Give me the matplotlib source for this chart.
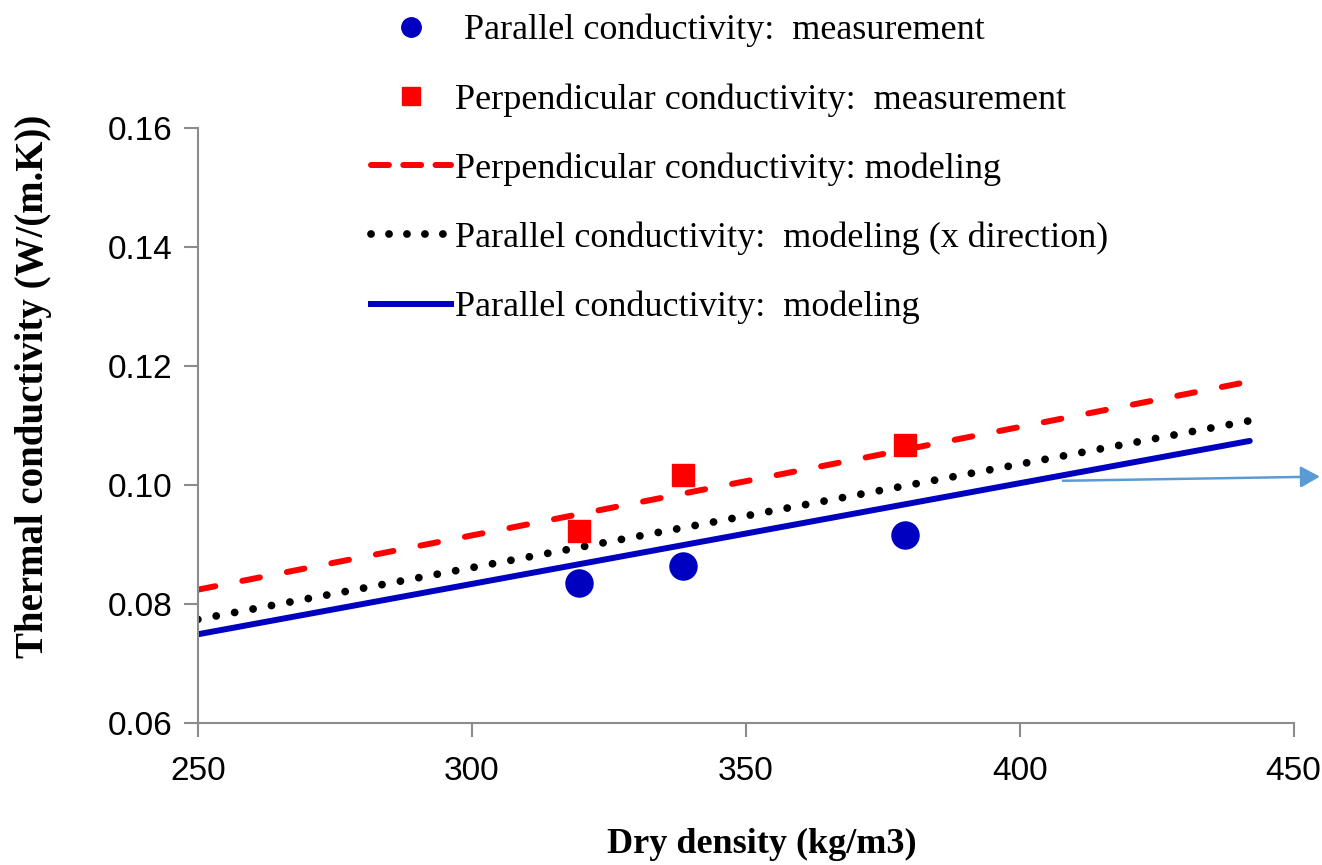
import matplotlib
matplotlib.use("Agg")
import matplotlib.pyplot as plt
from matplotlib.lines import Line2D

# Measured conductivities (W/(m.K)) against dry density (kg/m3)
density_meas = [319.5, 338.5, 379.0]
parallel_meas = [0.0836, 0.0864, 0.0916]
perpendicular_meas = [0.0923, 0.1016, 0.1067]

# Model predictions over the density range
density_model = [250, 442]
perpendicular_model = [0.0824, 0.1174]
parallel_model_x = [0.0774, 0.1108]
parallel_model = [0.0749, 0.1074]

x_ticks = [250, 300, 350, 400, 450]
y_ticks = [0.06, 0.08, 0.10, 0.12, 0.14, 0.16]

# Pointer arrow drawn from the parallel model line to the right edge
arrow_start = (407.9, 0.1007)
arrow_end = (454.8, 0.1014)

serif = ["Liberation Serif", "DejaVu Serif"]
narrow = ["Liberation Sans Narrow", "Liberation Sans", "DejaVu Sans"]

fig = plt.figure(figsize=(13.22, 8.65), dpi=100)
ax = fig.add_axes([0.1496, 0.1642, 0.8289, 0.6879])

blue = "#0000C0"
red = "#FF0000"

ax.plot(density_model, perpendicular_model, color=red, lw=4.3,
        linestyle=(0, (3.0, 4.6)), dash_capstyle="round", zorder=2)
ax.plot(density_model, parallel_model_x, color="black", lw=5.6,
        linestyle=(0, (0.01, 2.4)), dash_capstyle="round", zorder=2)
ax.plot(density_model, parallel_model, color=blue, lw=4.3,
        solid_capstyle="round", zorder=2)
ax.plot(density_meas, parallel_meas, "o", color=blue, ms=19.5, mec=blue,
        zorder=3)
ax.plot(density_meas, perpendicular_meas, "s", color=red, ms=16.5, mec=red,
        zorder=3)

ax.annotate("", xy=arrow_end, xytext=arrow_start, xycoords="data",
            annotation_clip=False,
            arrowprops=dict(arrowstyle="-|>,head_length=0.9,head_width=0.5",
                            mutation_scale=13, color="#5B9BD5", lw=1.8,
                            shrinkA=0, shrinkB=0))

ax.set_xlim(250, 450)
ax.set_ylim(0.06, 0.16)
ax.set_xticks(x_ticks)
ax.set_yticks(y_ticks)
ax.set_xticklabels([str(v) for v in x_ticks])
ax.set_yticklabels([f"{v:.2f}" for v in y_ticks])

for side in ("top", "right"):
    ax.spines[side].set_visible(False)
for side in ("left", "bottom"):
    ax.spines[side].set_color("#8C8C8C")
    ax.spines[side].set_linewidth(1.5)

ax.tick_params(axis="both", direction="out", length=10, width=1.5,
               color="#8C8C8C", labelsize=24)
ax.tick_params(axis="x", pad=14)
ax.tick_params(axis="y", pad=8)
for lab in ax.get_xticklabels() + ax.get_yticklabels():
    lab.set_family(narrow)

ax.set_xlabel("Dry density (kg/m3)", family=serif, fontsize=26,
              fontweight="bold")
ax.set_ylabel("Thermal conductivity (W/(m.K))", family=serif, fontsize=28,
              fontweight="bold")
ax.xaxis.set_label_coords(0.515, -0.176)
ax.yaxis.set_label_coords(-0.133, 0.565)

handles = [
    Line2D([], [], ls="none", marker="o", color=blue, ms=14),
    Line2D([], [], ls="none", marker="s", color=red, ms=13),
    Line2D([], [], color=red, lw=4.3, linestyle=(0, (3.0, 2.4)),
           dash_capstyle="round"),
    Line2D([], [], color="black", lw=5.6, linestyle=(0, (0.01, 2.3)),
           dash_capstyle="round"),
    Line2D([], [], color=blue, lw=4.3),
]
labels = [
    " Parallel conductivity:  measurement",
    "Perpendicular conductivity:  measurement",
    "Perpendicular conductivity: modeling",
    "Parallel conductivity:  modeling (x direction)",
    "Parallel conductivity:  modeling",
]
fig.legend(handles, labels, loc="upper left", bbox_to_anchor=(0.281, 0.984),
           frameon=False, prop=dict(family=serif, size=26),
           handlelength=2.2, handletextpad=0.12, labelspacing=0.99,
           borderpad=0, borderaxespad=0)

fig.savefig("out.png", dpi=100)
